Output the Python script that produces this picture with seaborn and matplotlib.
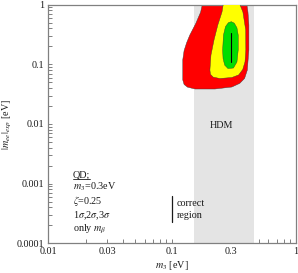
import numpy as np
import pandas as pd
import matplotlib
matplotlib.use("Agg")
import matplotlib.pyplot as plt
from matplotlib.ticker import LogLocator, NullFormatter, FixedLocator, FixedFormatter
import seaborn as sns

# ---------------- data ----------------
x_ticks = [0.01, 0.03, 0.1, 0.3, 1.0]
x_tick_labels = ["0.01", "0.03", "0.1", "0.3", "1"]
y_ticks = [0.0001, 0.001, 0.01, 0.1, 1.0]
y_tick_labels = ["0.0001", "0.001", "0.01", "0.1", "1"]

# HDM excluded band in m3 [eV]
hdm_band = [0.149, 0.455]

# 3 sigma region boundary (m3, |mee|)
red_m3 = [0.183, 0.170, 0.155, 0.139, 0.131, 0.125, 0.122, 0.122, 0.125, 0.133,
          0.153, 0.222, 0.304, 0.352, 0.385, 0.405, 0.417, 0.417, 0.410, 0.402, 0.400]
red_mee = [1.5, 0.75, 0.48, 0.310, 0.230, 0.170, 0.120, 0.0546, 0.0460, 0.0415,
           0.0386, 0.0386, 0.0417, 0.0480, 0.0580, 0.0800, 0.174, 0.457, 0.75, 1.0, 1.5]

# 2 sigma region boundary
yel_m3 = [0.267, 0.253, 0.234, 0.218, 0.206, 0.202, 0.204, 0.215, 0.243, 0.304,
          0.345, 0.372, 0.388, 0.394, 0.393, 0.373, 0.353, 0.355]
yel_mee = [1.5, 0.755, 0.457, 0.256, 0.143, 0.0804, 0.0680, 0.0610, 0.0579, 0.0602,
           0.0665, 0.0820, 0.110, 0.174, 0.377, 0.755, 1.0, 1.5]

# 1 sigma region boundary
grn_m3 = [0.301, 0.318, 0.334, 0.342, 0.342, 0.334, 0.313, 0.2825, 0.266, 0.258,
          0.256, 0.260, 0.270, 0.285]
grn_mee = [0.519, 0.490, 0.410, 0.310, 0.174, 0.1095, 0.0868, 0.0852, 0.0970,
           0.125, 0.174, 0.310, 0.430, 0.500]

# "correct region" segment (true values)
true_m3 = [0.3, 0.3]
true_mee = [0.336, 0.1095]

# ---------------- style ----------------
sns.set_theme(style="white")
plt.rcParams["font.family"] = ["Liberation Serif", "DejaVu Serif"]
plt.rcParams["mathtext.fontset"] = "stix"

fs = 7.3
spine_col = "#808080"
txt_col = "#1a1a1a"

fig = plt.figure(figsize=(2.98, 2.73), dpi=100)
ax = fig.add_axes([0.162, 0.1088, 0.831, 0.874])

ax.set_xscale("log")
ax.set_yscale("log")
ax.set_xlim(0.01, 1.0)
ax.set_ylim(0.0001, 1.0)

ax.axvspan(hdm_band[0], hdm_band[1], color="#e4e4e4", lw=0, zorder=1)

edge = "#3a3a3a"
ax.fill(red_m3, red_mee, facecolor="#ff0000", edgecolor=edge, lw=0.3, zorder=2)
ax.fill(yel_m3, yel_mee, facecolor="#ffff00", edgecolor=edge, lw=0.3, zorder=3)
ax.fill(grn_m3, grn_mee, facecolor="#00dd00", edgecolor=edge, lw=0.3, zorder=4)

df_true = pd.DataFrame({"m3": true_m3, "mee": true_mee})
sns.lineplot(data=df_true, x="m3", y="mee", color="black", lw=0.8,
             ax=ax, sort=False, estimator=None)
for ln in ax.lines:
    ln.set_zorder(6)

# ticks
ax.xaxis.set_major_locator(FixedLocator(x_ticks))
ax.xaxis.set_major_formatter(FixedFormatter(x_tick_labels))
ax.yaxis.set_major_locator(FixedLocator(y_ticks))
ax.yaxis.set_major_formatter(FixedFormatter(y_tick_labels))
ax.xaxis.set_minor_locator(LogLocator(base=10, subs=np.arange(2, 10)))
ax.yaxis.set_minor_locator(LogLocator(base=10, subs=np.arange(2, 10)))
ax.xaxis.set_minor_formatter(NullFormatter())
ax.yaxis.set_minor_formatter(NullFormatter())
ax.tick_params(which="both", direction="in", length=3.2, width=0.7,
               color=spine_col, labelsize=fs, labelcolor=txt_col,
               top=False, right=False, bottom=True, left=True)
ax.tick_params(axis="x", which="major", pad=3)
ax.tick_params(axis="y", which="major", pad=3)

for s in ax.spines.values():
    s.set_color(spine_col)
    s.set_linewidth(0.9)

ax.set_xlabel(r"$m_3$ [eV]", fontsize=fs, color=txt_col, labelpad=1.5)
ax.set_ylabel(r"$|m_{ee}|_{exp}$ [eV]", fontsize=fs, color=txt_col, labelpad=2)

# annotations
ax.text(0.25, 0.0096, "HDM", fontsize=fs, color=txt_col, ha="center", va="center", zorder=7)

tx = 0.098
ax.text(tx, 0.288, "QD;", transform=ax.transAxes, fontsize=fs, color=txt_col, va="center")
ax.plot([tx, tx + 0.072], [0.268, 0.268], transform=ax.transAxes, color=txt_col, lw=0.6)
ax.text(tx, 0.237, r"$m_3$=0.3eV", transform=ax.transAxes, fontsize=fs, color=txt_col, va="center")
ax.text(tx, 0.177, r"$\zeta$=0.25", transform=ax.transAxes, fontsize=fs, color=txt_col, va="center")
ax.text(tx, 0.114, r"1$\sigma$,2$\sigma$,3$\sigma$", transform=ax.transAxes, fontsize=fs, color=txt_col, va="center")
ax.text(tx, 0.059, r"only $m_\beta$", transform=ax.transAxes, fontsize=fs, color=txt_col, va="center")

ax.plot([0.498, 0.498], [0.091, 0.198], transform=ax.transAxes, color=txt_col, lw=0.9)
ax.text(0.518, 0.166, "correct", transform=ax.transAxes, fontsize=fs, color=txt_col, va="center")
ax.text(0.518, 0.118, "region", transform=ax.transAxes, fontsize=fs, color=txt_col, va="center")

fig.savefig("out.png", dpi=100)
